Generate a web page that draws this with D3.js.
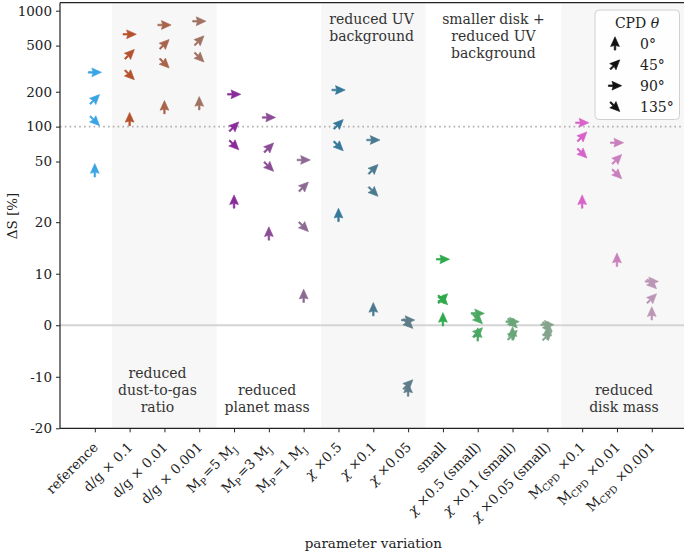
<!DOCTYPE html>
<html><head><meta charset="utf-8">
<script src="https://cdn.jsdelivr.net/npm/d3@7"></script>
<style>
body{margin:0;background:#fff;}
svg{display:block;}
text{font-family:"DejaVu Serif",serif;}
</style></head>
<body><svg id="c" width="684" height="554"></svg>
<script>
// ---------------- data ----------------
const categories = ["reference","d/g × 0.1","d/g × 0.01","d/g × 0.001",
  "M{P}=5 M{J}","M{P}=3 M{J}","M{P}=1 M{J}",
  "χ ×0.5","χ ×0.1","χ ×0.05",
  "small","χ ×0.5 (small)","χ ×0.1 (small)","χ ×0.05 (small)",
  "M{CPD} ×0.1","M{CPD} ×0.01","M{CPD} ×0.001"];
const colors = ["#3aa4e4","#b5522d","#a8644b","#a07262",
  "#8a2b9a","#8b4c96","#8c6a92",
  "#35789a","#4a7a90","#5e7d89",
  "#2ea94b","#4ba862","#6aa679","#85a48d",
  "#d862c9","#c97fbd","#bc96b6"];
const angles = [0,45,90,135];
const angleLabels = ["0°","45°","90°","135°"];
// ΔS [%] per category for CPD θ = 0°, 45°, 90°, 135°
const theta0   = [42,116,147,159, 24,17.8,5.7, 21.4,3.1,-12.5, 1.15,-1.8,-1.6,-1.5, 24,12.7,2.3];
const theta45  = [172,421,514,552, 100,65.8,30.3, 104.7,42.9,-11.5, 5.2,-1.4,-1.9,-2.0, 81.9,52.3,5.2];
const theta90  = [294,626,753,811, 190,120,51.6, 207,76.7,1.0, 12.8,2.3,0.7,0.1, 108,72.7,8.5];
const theta135 = [112,279,352,396, 69.4,45.2,19.1, 68,27.5,0.3, 4.9,1.2,0.4,-0.3, 58.9,39.0,8.0];
const yTicks = [-20,-10,0,10,20,50,100,200,500,1000];
const bands = [[0.5,3.5],[6.5,9.5],[13.4,17]];
const bandLabels = [
  {x:1.8, lines:["reduced","dust-to-gas","ratio"], pos:"bottom"},
  {x:4.95, lines:["reduced","planet mass"], pos:"bottom"},
  {x:7.95, lines:["reduced UV","background"], pos:"top"},
  {x:11.45, lines:["smaller disk +","reduced UV","background"], pos:"top"},
  {x:15.2, lines:["reduced","disk mass"], pos:"bottom"}];
const refLine = 100;

// ---------------- scales ----------------
const L = 25, linscale = 1/(1-1/10);
function T(v){ const a=Math.abs(v), s=Math.sign(v);
  return a<=L ? v*linscale : s*(L*linscale + L*Math.log10(a/L)); }
const m = {l:60, r:686.6, t:2.7, b:428.3};
const x = d3.scaleLinear().domain([-1,17]).range([m.l,m.r]);
const yT = d3.scaleLinear().domain([T(-20),T(1172)]).range([m.b,m.t]);
const y = v => yT(T(v));

const svg = d3.select("#c");
svg.append("defs").append("clipPath").attr("id","clip")
  .append("rect").attr("x",m.l).attr("y",m.t).attr("width",m.r-m.l).attr("height",m.b-m.t);
const g = svg.append("g").attr("clip-path","url(#clip)");

// bands
g.selectAll("rect.band").data(bands).join("rect").attr("class","band")
  .attr("x",d=>x(d[0])).attr("width",d=>x(d[1])-x(d[0]))
  .attr("y",m.t).attr("height",m.b-m.t).attr("fill","#f7f7f7");

// reference lines
g.append("line").attr("x1",m.l).attr("x2",m.r).attr("y1",y(0)).attr("y2",y(0))
  .attr("stroke","#d4d4d4").attr("stroke-width",1.8);
g.append("line").attr("x1",m.l).attr("x2",m.r).attr("y1",y(refLine)).attr("y2",y(refLine))
  .attr("stroke","#b0b0b0").attr("stroke-width",1.6).attr("stroke-dasharray","1.6,3.2");

// band labels
bandLabels.forEach(b=>{
  const n=b.lines.length, lh=16.8;
  const t = svg.append("text").attr("text-anchor","middle").attr("font-size",14).attr("fill","#333");
  b.lines.forEach((ln,i)=>{
    let yy = b.pos==="top" ? 24 + i*lh : 412 - (n-1-i)*lh;
    t.append("tspan").attr("x",x(b.x)).attr("y",yy).text(ln);
  });
});

// arrow marker (pointing up, rotated by θ)
const arrowPath = "M0,-7.5 L4.4,2.2 L0.8,1.2 L0.8,5.8 L-0.8,5.8 L-0.8,1.2 L-4.4,2.2 Z";
const series = [theta0,theta45,theta90,theta135];
const pts = [];
series.forEach((s,k)=> s.forEach((v,i)=>pts.push({i, v, a:angles[k], c:colors[i]})));
g.selectAll("path.pt").data(pts).join("path").attr("class","pt")
  .attr("d",arrowPath)
  .attr("transform",d=>`translate(${x(d.i)},${y(d.v)}) rotate(${d.a}) translate(0,0.8)`)
  .attr("fill",d=>d.c).attr("stroke",d=>d.c).attr("stroke-width",0.6).attr("stroke-linejoin","round");

// axes
const axisColor="#222";
const yAxis = d3.axisLeft(yT).tickValues(yTicks.map(T)).tickFormat((d,i)=>yTicks[i]).tickSize(4).tickPadding(4);
const ya = svg.append("g").attr("transform",`translate(${m.l},0)`).call(yAxis);
const xAxis = d3.axisBottom(x).tickValues(d3.range(categories.length)).tickFormat("").tickSize(4);
const xa = svg.append("g").attr("transform",`translate(0,${m.b})`).call(xAxis);
[ya,xa].forEach(a=>{a.select(".domain").remove(); a.selectAll("line").attr("stroke",axisColor).attr("stroke-width",1);
  a.selectAll("text").attr("font-family","DejaVu Serif").attr("font-size",13.5).attr("fill","#222");});
// spines
svg.append("line").attr("x1",m.l).attr("x2",m.l).attr("y1",m.t).attr("y2",m.b).attr("stroke",axisColor).attr("stroke-width",1.2);
svg.append("line").attr("x1",m.l).attr("x2",m.r).attr("y1",m.b).attr("y2",m.b).attr("stroke",axisColor).attr("stroke-width",1.2);
svg.append("line").attr("x1",m.l).attr("x2",m.r).attr("y1",m.t).attr("y2",m.t).attr("stroke",axisColor).attr("stroke-width",1.2);

// x tick labels
function addRich(t, s){
  const re = /(\{[^}]*\})|(χ)|([^{χ]+)/g; let mm;
  while((mm=re.exec(s))){
    if(mm[1]){ t.append("tspan").attr("font-size",9.5).attr("dy",3).text(mm[1].slice(1,-1));
               t.append("tspan").attr("dy",-3).text("\u200a"); }
    else if(mm[2]) t.append("tspan").attr("font-style","italic").text("χ");
    else t.append("tspan").text(mm[3]);
  }
}
categories.forEach((c,i)=>{
  const px=x(i)+4, py=448;
  const t = svg.append("text").attr("text-anchor","end").attr("font-size",13.5).attr("fill","#222")
    .attr("transform",`translate(${px},${py}) rotate(-45)`);
  addRich(t,c);
});

// axis titles
svg.append("text").attr("x",(m.l+m.r)/2).attr("y",548).attr("text-anchor","middle")
  .attr("font-size",13.5).attr("fill","#222").text("parameter variation");
svg.append("text").attr("transform",`translate(17,216) rotate(-90)`).attr("text-anchor","middle")
  .attr("font-size",13.5).attr("fill","#222").text("ΔS [%]");

// legend
const lg = svg.append("g");
lg.append("rect").attr("x",595).attr("y",10).attr("width",84.5).attr("height",109.5).attr("rx",4)
  .attr("fill","#fff").attr("fill-opacity",0.85).attr("stroke","#d0d0d0");
const lt = lg.append("text").attr("x",637).attr("y",27.5).attr("text-anchor","middle").attr("font-size",14).attr("fill","#222");
lt.append("tspan").text("CPD ");
lt.append("tspan").attr("font-style","italic").text("θ");
angles.forEach((a,k)=>{
  const yy = 43.5 + k*21.1;
  lg.append("path").attr("d",arrowPath).attr("transform",`translate(615,${yy}) rotate(${a}) translate(0,0.8)`)
    .attr("fill","#111").attr("stroke","#111").attr("stroke-width",0.6).attr("stroke-linejoin","round");
  lg.append("text").attr("x",640).attr("y",yy+5).attr("font-size",14).attr("fill","#222").text(angleLabels[k]);
});
</script></body></html>
